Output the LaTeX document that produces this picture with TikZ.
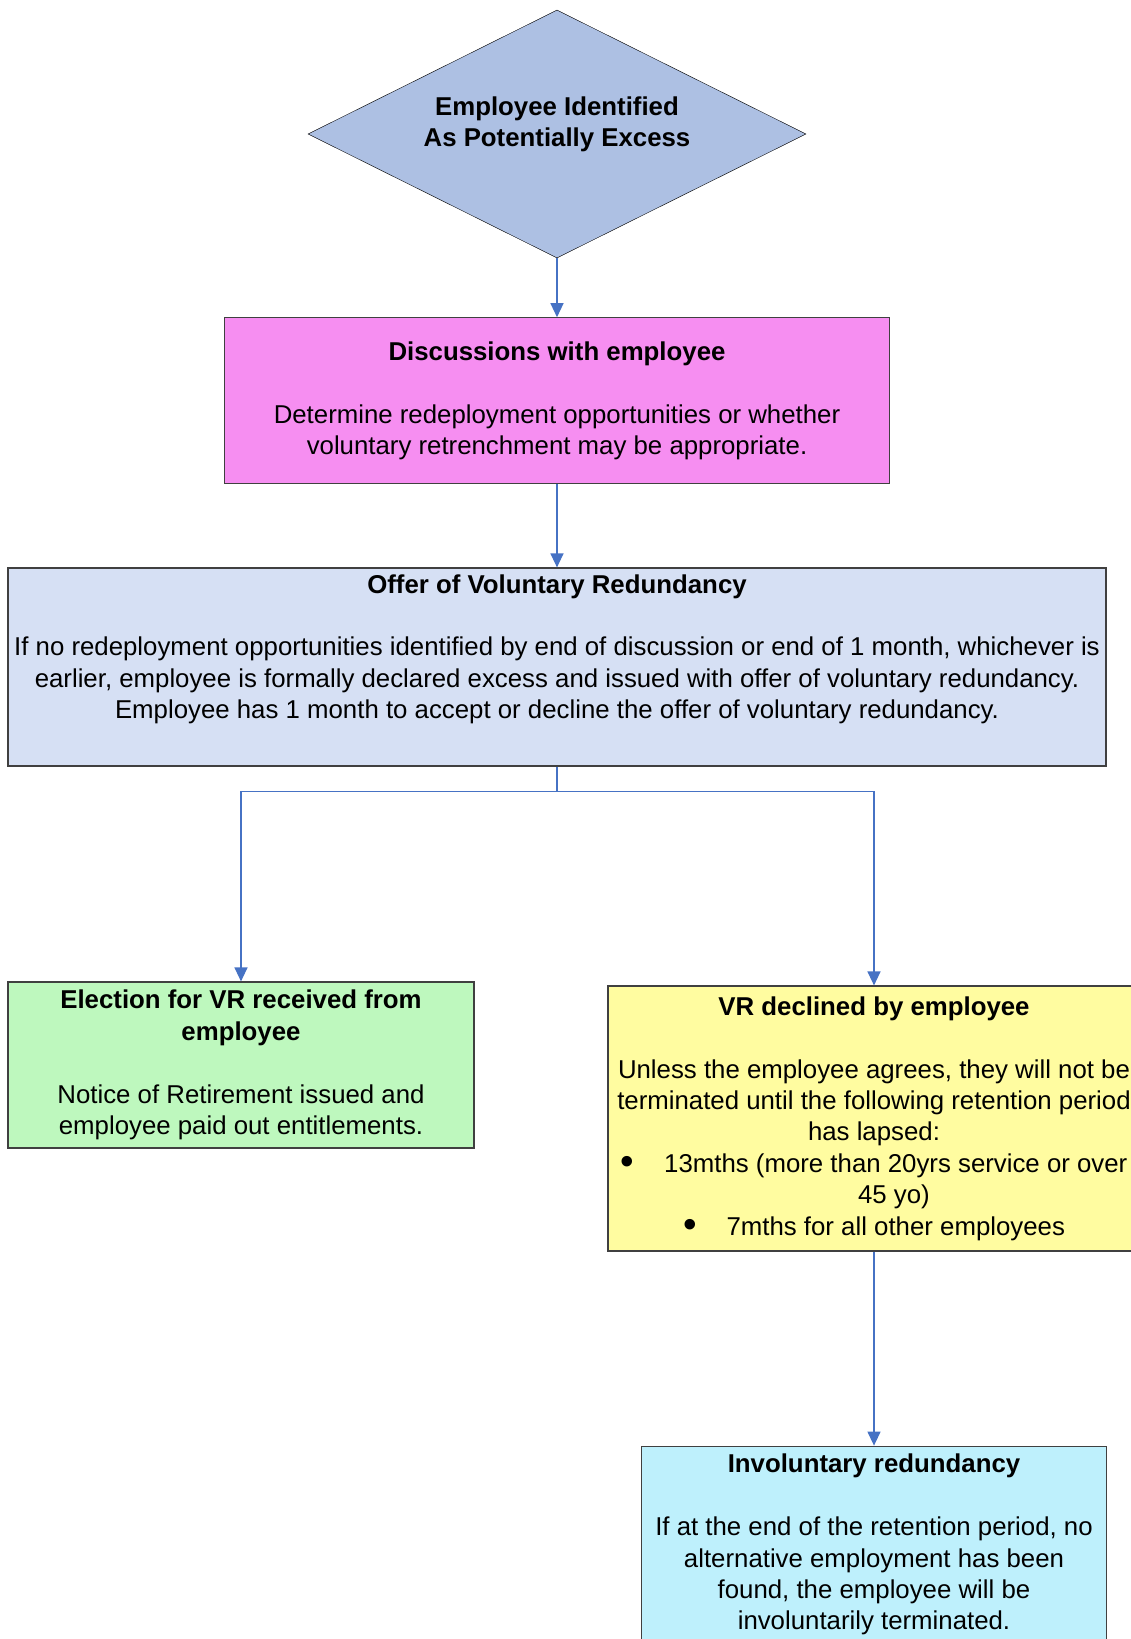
\documentclass[tikz,border=0pt]{standalone}
\usepackage{fontspec}
\setmainfont{Liberation Sans}
\usepackage{tikz}
\usetikzlibrary{shapes.geometric, positioning, arrows.meta}
\def\nodedistance{59pt}
\definecolor{identified}{RGB}{173, 192, 227}
\definecolor{discussion}{RGB}{246, 142, 241}
\definecolor{offer}{RGB}{214, 224, 244}
\definecolor{election}{RGB}{190, 248, 190}
\definecolor{decline}{RGB}{255, 252, 160}
\definecolor{involuntary}{RGB}{190, 240, 252}
\definecolor{flow}{RGB}{70, 114, 196}
\tikzstyle{arrow} = [flow, -{Triangle[length=14pt, width=13pt]}, line width=1.3pt]
\tikzstyle{connector} = [flow, -, line width=1.3pt]
\newcommand{\tikzdecisionnode}[1]{\node[
  draw=black, diamond, shape aspect=2, minimum width=498pt, minimum height=248pt, fill=#1, inner sep=0,
  align=center, font=\fontsize{25.8pt}{30.4pt}\selectfont\bfseries
]}
\newcommand{\tikzstepnode}[1]{\node[
  draw=black!75, line width=1.2pt, rectangle, fill=#1, inner sep=0,
  align=center, font=\fontsize{25.8pt}{31.4pt}\selectfont
]}
\newcommand{\bigbullet}{\raisebox{-2.5pt}{\scalebox{1.5}{\textbullet}}}

\begin{document}
\begin{tikzpicture}[x=1pt, y=-1pt, node distance=\nodedistance]
    \useasboundingbox (0, 0) rectangle (1131, 1639);

    % nodes
    \tikzdecisionnode{identified} at (557, 134) (identified)
      {Employee Identified\\As Potentially Excess\\[-6pt] \mbox{}};
    \tikzstepnode{discussion} [minimum width=665pt, minimum height=166pt, below = of identified] (discussion)
      {\textbf{Discussions with employee}\\ \strut\\
       Determine redeployment opportunities or whether\\
       voluntary retrenchment may be appropriate.};
    \tikzstepnode{offer} [minimum width=1098pt, minimum height=198pt, below = 83pt of discussion] (offer)
      {\textbf{Offer of Voluntary Redundancy}\\ \strut\\
       If no redeployment opportunities identified by end of discussion or end of 1 month, whichever is\\
       earlier, employee is formally declared excess and issued with offer of voluntary redundancy.\\
       Employee has 1 month to accept or decline the offer of voluntary redundancy.\\ \strut};
    \tikzstepnode{election} [minimum width=466pt, minimum height=166pt] at (241, 1065) (election)
      {\textbf{Election for VR received from}\\ \textbf{employee}\\ \strut\\
       Notice of Retirement issued and\\
       employee paid out entitlements.};
    \tikzstepnode{decline} [minimum width=532pt, minimum height=265pt] at (874, 1118.5) (decline)
      {\textbf{VR declined by employee}\\ \strut\\
       Unless the employee agrees, they will not be\\
       terminated until the following retention period\\
       has lapsed:\\
       \bigbullet\hspace{30pt}13mths (more than 20yrs service or over\\
       \hspace{40pt}45 yo)\\
       \bigbullet\hspace{30pt}7mths for all other employees};
    \tikzstepnode{involuntary} [minimum width=465pt, minimum height=197pt, below = 194pt of decline] (involuntary)
      {\textbf{Involuntary redundancy}\\ \strut\\
       If at the end of the retention period, no\\
       alternative employment has been\\
       found, the employee will be\\
       involuntarily terminated.};

    % arrows
    \draw[arrow]      (identified)   -- (discussion);
    \draw[arrow]      (discussion)   -- (offer);
    \draw[connector]  (offer.south)  -- ++(0, 25) coordinate (branch);
    \draw[arrow]      (branch)       -| (election.north);
    \draw[arrow]      (branch)       -| (decline.north);
    \draw[arrow]      (decline)      -- (involuntary);
  \end{tikzpicture}
\end{document}
